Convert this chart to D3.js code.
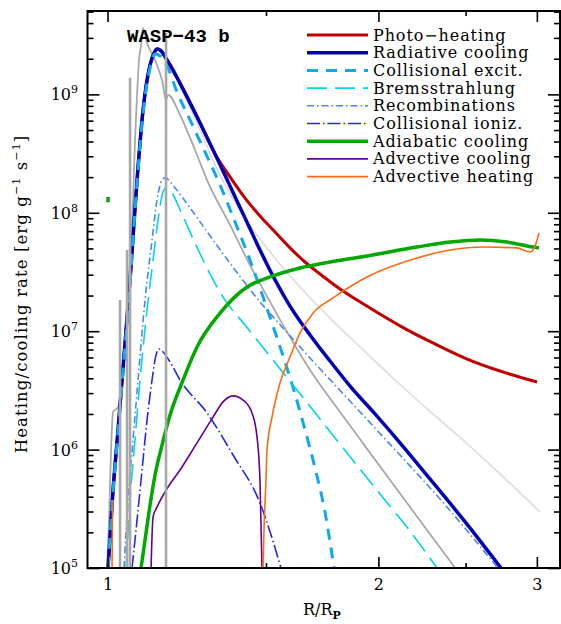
<!DOCTYPE html>
<html><head><meta charset="utf-8">
<script src="https://cdn.jsdelivr.net/npm/d3@7"></script>
<style>body{margin:0;background:#fff}</style>
</head><body><svg id="c" width="561" height="624"></svg>
<script>
// ---- data (R/Rp, rate in erg g^-1 s^-1) ----
const photoHeatingR = [1.0013,1.0142,1.0272,1.0378,1.0593,1.0784,1.0951,1.1149,1.1264,1.1350,1.1467,1.1644,1.1885,1.2192,1.2671,1.3166,1.3681,1.4216,1.4771,1.5350,1.5950,1.6574,1.7223,1.8128,1.9575,2.1135,2.3114,2.5099,2.7298,3.0016];
const photoHeatingRate = [1e5,4.56e5,1.47e6,3.87e6,2.71e7,1.89e8,7.38e8,1.77e9,2.24e9,2.42e9,2.33e9,1.95e9,1.49e9,1.03e9,5.73e8,3.14e8,2.01e8,1.33e8,9.40e7,6.88e7,5.05e7,3.84e7,3.04e7,2.27e7,1.57e7,1.11e7,7.80e6,5.82e6,4.61e6,3.72e6];

const radiativeR = [1.0013,1.0142,1.0272,1.0378,1.0593,1.0784,1.0951,1.1149,1.1264,1.1350,1.1467,1.1644,1.1885,1.2192,1.2671,1.3166,1.3681,1.4216,1.4771,1.5350,1.5950,1.6788,1.7669,1.8600,1.9826,2.1135,2.2820,2.4972,2.7368];
const radiativeRate = [1e5,4.56e5,1.47e6,3.87e6,2.71e7,1.89e8,7.38e8,1.77e9,2.24e9,2.42e9,2.33e9,1.95e9,1.49e9,1.03e9,5.73e8,3.14e8,1.68e8,9.04e7,4.85e7,2.71e7,1.63e7,9.29e6,5.60e6,3.44e6,2.00e6,1.14e6,5.65e5,2.45e5,1e5];

const collExcitR = [1.0013,1.0142,1.0272,1.0378,1.0593,1.0784,1.0951,1.1149,1.1292,1.1438,1.1644,1.1946,1.2350,1.2834,1.3335,1.3857,1.4398,1.4885,1.5350,1.5747,1.6155,1.6574,1.7004,1.7444,1.7851];
const collExcitRate = [1e5,4.38e5,1.41e6,3.65e6,2.55e7,1.79e8,6.96e8,1.67e9,2.19e9,2.11e9,1.74e9,1.05e9,6.08e8,3.26e8,1.72e8,8.36e7,3.99e7,1.95e7,9.85e6,5.50e6,2.95e6,1.47e6,7.0e5,2.97e5,1e5];

const bremsR = [1.0485,1.0593,1.0728,1.0866,1.1064,1.1235,1.1379,1.1526,1.1614,1.1795,1.2038,1.2509,1.2999,1.3507,1.4216,1.4962,1.5747,1.6574,1.8269,2.0081,2.1683,2.3232];
const bremsRate = [1e5,3.75e5,1.21e6,3.87e6,1.51e7,3.99e7,8.69e7,1.50e8,1.62e8,1.47e8,1.06e8,5.56e7,3.04e7,1.83e7,1.13e7,6.94e6,4.27e6,2.62e6,1.03e6,4.22e5,2.05e5,1e5];

const recombR = [1.0431,1.0539,1.0674,1.0811,1.1007,1.1206,1.1350,1.1496,1.1585,1.1885,1.2350,1.3099,1.3857,1.4771,1.5747,1.6788,1.7897,1.9080,2.1135,2.3470,2.7089];
const recombRate = [1e5,3.75e5,1.21e6,3.87e6,1.83e7,5.89e7,1.28e8,1.89e8,1.97e8,1.62e8,1.10e8,5.89e7,3.29e7,1.77e7,1.02e7,5.94e6,3.51e6,2.08e6,9.0e5,3.75e5,1.02e5];

const collIonizR = [1.0647,1.0784,1.0923,1.1064,1.1206,1.1321,1.1408,1.1526,1.1735,1.2038,1.2900,1.3787,1.4771,1.5587];
const collIonizRate = [1e5,2.54e5,6.73e5,1.78e6,3.87e6,6.29e6,7.08e6,6.67e6,5.50e6,3.87e6,2.04e6,9.0e5,3.54e5,1e5];

const adiabaticR = [1.0895,1.1007,1.1149,1.1292,1.1496,1.1735,1.2131,1.2573,1.3335,1.4289,1.5155,1.6364,1.7669,1.9425,2.2075,2.4034,2.5935,2.7791,2.9711,3.0170];
const adiabaticRate = [1e5,1.72e5,3.40e5,6.10e5,1.09e6,1.96e6,3.87e6,7.36e6,1.42e7,2.36e7,2.87e7,3.42e7,3.84e7,4.32e7,5.14e7,5.66e7,5.89e7,5.66e7,5.14e7,5.05e7];
const adiabaticInnerR = [1.0013,1.0013];
const adiabaticInnerRate = [1.23e8,1.36e8];

const advCoolR = [1.1178,1.1235,1.1350,1.1674,1.2038,1.2573,1.3099,1.3438,1.3787,1.4144,1.4473,1.4659,1.4771,1.4847];
const advCoolRate = [1e5,2.70e5,3.27e5,4.83e5,6.73e5,1.14e6,1.88e6,2.53e6,2.84e6,2.62e6,2.04e6,1.28e6,5.53e5,1e5];

const advHeatR = [1.4885,1.4923,1.5000,1.5038,1.5232,1.5547,1.5950,1.6364,1.6917,1.7806,1.9425,2.2075,2.4034,2.6135,2.8510,2.9482,2.9711,3.0016,3.0170];
const advHeatRate = [1e5,2.09e5,5.53e5,9.93e5,1.88e6,3.65e6,6.05e6,9.66e6,1.42e7,1.91e7,2.87e7,4.15e7,4.85e7,5.14e7,5.05e7,4.67e7,4.85e7,5.89e7,6.75e7];
const advHeatInnerR = [1.0116,1.0129];
const advHeatInnerRate = [1e5,3.75e5];

const lightGreyR = [1.1885,1.2671,1.3335,1.4144,1.5155,1.6364,1.7669,1.9080,2.0866,2.2996,2.5099,2.7298,3.0247];
const lightGreyRate = [1.46e9,5.0e8,2.08e8,9.58e7,4.67e7,2.36e7,1.29e7,7.36e6,3.87e6,2.00e6,1.12e6,6.23e5,2.97e5];

const greyR = [0.9987,1.0038,1.0090,1.0142,1.0272,1.0378,1.0485,1.0593,1.0674,1.0728,1.0784,1.0839,1.0895,1.0951,1.1007,1.1064,1.1149,1.1264,1.1379,1.1496,1.1614,1.1674,1.2038,1.2509,1.2900,1.3681,1.4398,1.5155,1.5950,1.6788,1.8128,1.9326,2.1683,2.4343];
const greyRate = [1e5,2.54e5,9.93e5,2.08e6,2.29e6,3.87e6,1.24e7,3.99e7,1.28e8,4.12e8,9.9e8,1.95e9,2.61e9,3.64e9,3.18e9,2.72e9,2.37e9,2.03e9,1.67e9,1.32e9,8.97e8,9.9e8,6.70e8,3.39e8,1.89e8,7.89e7,3.62e7,1.77e7,8.93e6,4.70e6,2.08e6,1.07e6,3.27e5,1e5];

const spikeR = [1.0325,1.0512,1.0593,1.1614];
const spikeTop = [1.83e7,4.85e7,1.38e9,3.3e9];
const spikeBase = 1e5;

const legendLabels = ["Photo\u2212heating","Radiative cooling","Collisional excit.","Bremsstrahlung","Recombinations","Collisional ioniz.","Adiabatic cooling","Advective cooling","Advective heating"];
const xMajor = [1,2,3];
const xMinor = [1.5,2.5];
const yMajor = [1e5,1e6,1e7,1e8,1e9];
const yExpLabels = ["5","6","7","8","9"];

// ---- layout ----
const L=87.5, R=560, T=11, B=568;
const svg = d3.select("#c");
const font = "'DejaVu Serif', serif";
const x = d3.scaleLog().domain([0.95, 3.183]).range([L, R]);
const y = d3.scaleLog().domain([1e5, 5.06e9]).range([B, T]);

svg.append("clipPath").attr("id","clip").append("rect")
  .attr("x",L).attr("y",T).attr("width",R-L).attr("height",B-T);
const plot = svg.append("g").attr("clip-path","url(#clip)");
const line = d3.line().x(d=>x(d[0])).y(d=>y(d[1])).curve(d3.curveMonotoneX);
const lineStraight = d3.line().x(d=>x(d[0])).y(d=>y(d[1]));
const zip = (a,b)=>a.map((v,i)=>[v,b[i]]);

function draw(r, v, st, gen){
  plot.append("path").attr("d",(gen||line)(zip(r,v)))
    .attr("fill","none").attr("stroke",st.c).attr("stroke-width",st.w)
    .attr("stroke-dasharray",st.dash||null).attr("stroke-linejoin","round");
}

const styles = [
  {c:"#c00000", w:3},
  {c:"#0000b4", w:3.5},
  {c:"#10a8f0", w:3, dash:"11,8"},
  {c:"#00d4ec", w:1.6, dash:"20,8"},
  {c:"#4a86f0", w:1.6, dash:"7,3,1.5,3"},
  {c:"#2828e0", w:1.6, dash:"13,3,1.5,3"},
  {c:"#00a800", w:3.5},
  {c:"#660099", w:1.6},
  {c:"#ff6a10", w:1.6}
];

// grey comparison curves
draw(lightGreyR, lightGreyRate, {c:"#dcdcdc", w:1.6});
draw(greyR, greyRate, {c:"#a8a8a8", w:1.8});

draw(photoHeatingR, photoHeatingRate, styles[0]);
draw(radiativeR, radiativeRate, styles[1]);
draw(collExcitR, collExcitRate, styles[2]);
draw(bremsR, bremsRate, styles[3]);
draw(recombR, recombRate, styles[4]);
draw(collIonizR, collIonizRate, styles[5]);
draw(adiabaticR, adiabaticRate, styles[6]);
draw(adiabaticInnerR, adiabaticInnerRate, styles[6], lineStraight);
draw(advCoolR, advCoolRate, styles[7]);
draw(advHeatR, advHeatRate, styles[8]);
draw(advHeatInnerR, advHeatInnerRate, styles[8], lineStraight);

plot.selectAll("line.spike").data(zip(spikeR, spikeTop)).join("line")
  .attr("class","spike")
  .attr("x1",d=>x(d[0])).attr("x2",d=>x(d[0]))
  .attr("y1",y(spikeBase)).attr("y2",d=>y(d[1]))
  .attr("stroke","#a8a8a8").attr("stroke-width",2.6);

// ---- axes ----
const yMinor = [];
yMajor.forEach(d=>{ for(let m=2;m<=9;m++){ const v=d*m; if(v<5.06e9) yMinor.push(v);} });

function styleAxis(g){
  g.select(".domain").remove();
  g.selectAll(".tick line").attr("stroke","#000").attr("stroke-width",1.6);
}
svg.append("g").attr("transform",`translate(0,${B})`)
  .call(d3.axisBottom(x).tickValues(xMajor).tickSizeInner(-11).tickSizeOuter(0).tickPadding(11).tickFormat(d3.format("d")))
  .call(styleAxis)
  .call(g=>g.selectAll("text").attr("font-family",font).attr("font-size",16).attr("fill","#000"));
svg.append("g").attr("transform",`translate(0,${B})`)
  .call(d3.axisBottom(x).tickValues(xMinor).tickSizeInner(-5).tickSizeOuter(0).tickFormat(""))
  .call(styleAxis);
svg.append("g").attr("transform",`translate(0,${T})`)
  .call(d3.axisTop(x).tickValues(xMajor).tickSizeInner(-11).tickSizeOuter(0).tickFormat(""))
  .call(styleAxis);
svg.append("g").attr("transform",`translate(0,${T})`)
  .call(d3.axisTop(x).tickValues(xMinor).tickSizeInner(-5).tickSizeOuter(0).tickFormat(""))
  .call(styleAxis);

svg.append("g").attr("transform",`translate(${L},0)`)
  .call(d3.axisLeft(y).tickValues(yMajor).tickSizeInner(-12).tickSizeOuter(0).tickFormat(""))
  .call(styleAxis);
svg.append("g").attr("transform",`translate(${L},0)`)
  .call(d3.axisLeft(y).tickValues(yMinor).tickSizeInner(-6).tickSizeOuter(0).tickFormat(""))
  .call(styleAxis);
svg.append("g").attr("transform",`translate(${R},0)`)
  .call(d3.axisRight(y).tickValues(yMajor).tickSizeInner(-12).tickSizeOuter(0).tickFormat(""))
  .call(styleAxis);
svg.append("g").attr("transform",`translate(${R},0)`)
  .call(d3.axisRight(y).tickValues(yMinor).tickSizeInner(-6).tickSizeOuter(0).tickFormat(""))
  .call(styleAxis);

// y tick labels 10^n
yMajor.forEach((d,i)=>{
  const t = svg.append("text").attr("x",78).attr("y",y(d)+6)
    .attr("text-anchor","end").attr("font-family",font).attr("fill","#000");
  t.append("tspan").attr("font-size",16).text("10");
  t.append("tspan").attr("font-size",11).attr("dy",-7).text(yExpLabels[i]);
});

// frame
svg.append("rect").attr("x",L).attr("y",T).attr("width",R-L).attr("height",B-T)
  .attr("fill","none").attr("stroke","#000").attr("stroke-width",2);

// axis titles
const xt = svg.append("text").attr("x",303).attr("y",615).attr("font-family",font).attr("fill","#000");
xt.append("tspan").attr("font-size",16).text("R/R");
xt.append("tspan").attr("font-size",11).attr("dy",4).attr("font-weight","bold").text("P");

const yt = svg.append("text").attr("transform","translate(27,294) rotate(-90)")
  .attr("text-anchor","middle").attr("font-family",font).attr("font-size",16.5).attr("fill","#000")
  .attr("letter-spacing",1.1);
yt.append("tspan").text("Heating/cooling rate [erg g");
yt.append("tspan").attr("font-size",11).attr("dy",-7).text("\u22121");
yt.append("tspan").attr("dy",7).text(" s");
yt.append("tspan").attr("font-size",11).attr("dy",-7).text("\u22121");
yt.append("tspan").attr("dy",7).text("]");

// planet label
svg.append("text").attr("x",127).attr("y",42).attr("font-family","'Liberation Mono', monospace")
  .attr("font-weight","bold").attr("font-size",19).attr("fill","#000").text("WASP\u221243 b");

// legend
const lg = svg.append("g");
legendLabels.forEach((lab,i)=>{
  const yy = 35 + i*17.7;
  const st = styles[i];
  lg.append("line").attr("x1",307).attr("x2",368).attr("y1",yy).attr("y2",yy)
    .attr("stroke",st.c).attr("stroke-width",st.w).attr("stroke-dasharray",st.dash||null);
  lg.append("text").attr("x",373).attr("y",yy+5.5).attr("font-family",font)
    .attr("font-size",16).attr("letter-spacing",0.9).attr("fill","#000").text(lab);
});
</script>
</body></html>
